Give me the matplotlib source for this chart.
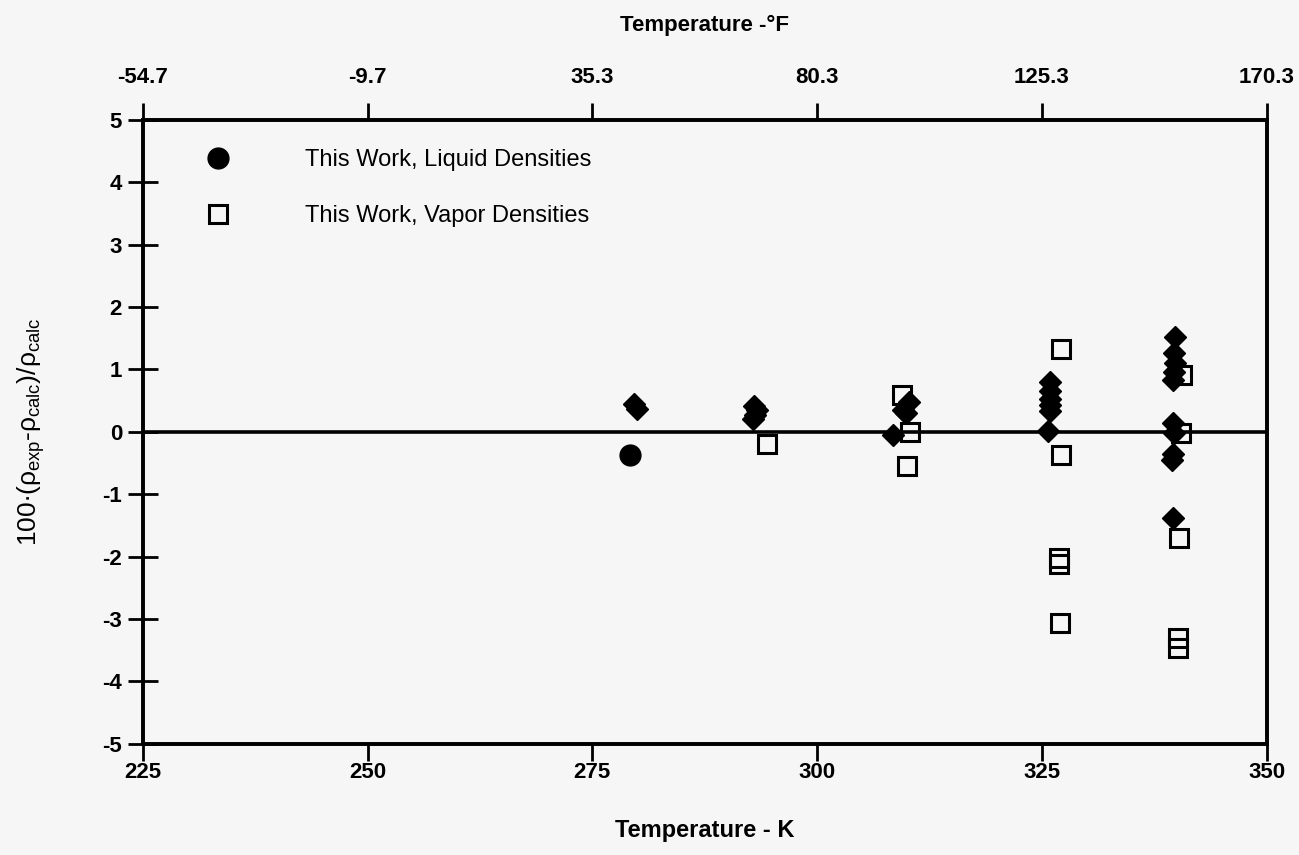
"""Density deviation plot: liquid / vapor, K bottom axis, degF top axis."""
import matplotlib.pyplot as plt
from matplotlib.lines import Line2D

# temperatures in K, deviations in percent
liq_circle_T = [279.2]
liq_circle_dev = [-0.37]

liq_T = [279.6, 280.0,
         293.0, 293.3, 293.1, 292.9,
         308.4, 309.6, 310.2, 309.9,
         325.9, 325.9, 325.9, 325.9, 325.9, 325.7,
         339.8, 339.7, 339.8, 339.7, 339.6, 339.6, 339.7, 339.6, 339.5, 339.6]
liq_dev = [0.45, 0.37,
           0.42, 0.35, 0.27, 0.20,
           -0.05, 0.35, 0.48, 0.30,
           0.80, 0.65, 0.53, 0.43, 0.33, 0.02,
           1.52, 1.27, 1.10, 0.96, 0.83, 0.14, -0.02, -0.35, -0.45, -1.38]

vap_T = [294.4, 309.5, 310.3, 310.0,
         327.1, 327.1, 326.9, 326.9, 327.0,
         340.6, 340.5, 340.3, 340.2, 340.2]
vap_dev = [-0.19, 0.59, 0.0, -0.55,
           1.33, -0.38, -2.02, -2.12, -3.06,
           0.91, -0.02, -1.70, -3.30, -3.46]

k_ticks = [225, 250, 275, 300, 325, 350]
f_labels = ["-54.7", "-9.7", "35.3", "80.3", "125.3", "170.3"]
y_ticks = [-5, -4, -3, -2, -1, 0, 1, 2, 3, 4, 5]

bg = "#f6f6f6"
plt.rcParams["font.family"] = ["Liberation Sans", "DejaVu Sans"]
plt.rcParams["mathtext.fontset"] = "custom"
plt.rcParams["mathtext.rm"] = "Liberation Sans"
plt.rcParams["mathtext.it"] = "Liberation Sans"

fig = plt.figure(figsize=(12.99, 8.55), dpi=100, facecolor=bg)
ax = fig.add_axes([0.110, 0.130, 0.865, 0.730], facecolor=bg)

ax.plot(liq_T, liq_dev, "D", ms=11, color="black", mec="black", zorder=3)
ax.plot(liq_circle_T, liq_circle_dev, "o", ms=15, color="black", zorder=3)
ax.plot(vap_T, vap_dev, "s", ms=13, mfc="none", mec="black", mew=2.2, zorder=4)

ax.axhline(0, color="black", lw=2.6, zorder=2)

ax.set_xlim(225, 350)
ax.set_ylim(-5, 5)
ax.set_xticks(k_ticks)
ax.set_yticks(y_ticks)
ax.set_xticklabels([str(t) for t in k_ticks], fontsize=16, fontweight="bold")
ax.set_yticklabels([str(t) for t in y_ticks], fontsize=16, fontweight="bold")
ax.tick_params(axis="x", direction="out", length=12, width=2, pad=1)
ax.tick_params(axis="y", direction="inout", length=22, width=2, pad=4)
for s in ax.spines.values():
    s.set_linewidth(2.6)

ax.set_xlabel("Temperature - K", fontsize=17, fontweight="bold", labelpad=26)
ax.set_ylabel(r"100$\bullet$($\rho_{\mathrm{exp}}$-$\rho_{\mathrm{calc}}$)/$\rho_{\mathrm{calc}}$",
              fontsize=19, labelpad=40)

top = ax.twiny()
top.set_xlim(ax.get_xlim())
top.set_xticks(k_ticks)
top.set_xticklabels(f_labels, fontsize=16, fontweight="bold")
top.tick_params(axis="x", direction="out", length=12, width=2, pad=11)
top.set_xlabel("Temperature -°F", fontsize=16, fontweight="bold", labelpad=26)
for s in top.spines.values():
    s.set_linewidth(2.6)

handles = [Line2D([], [], ls="none", marker="o", ms=15, color="black"),
           Line2D([], [], ls="none", marker="s", ms=13, mfc="none", mec="black", mew=2.2)]
ax.legend(handles, ["This Work, Liquid Densities", "This Work, Vapor Densities"],
          loc="upper left", bbox_to_anchor=(0.027, 0.987), frameon=False,
          handletextpad=2.7, labelspacing=1.45, prop={"size": 17})

fig.savefig("out.png", dpi=100, facecolor=bg)
